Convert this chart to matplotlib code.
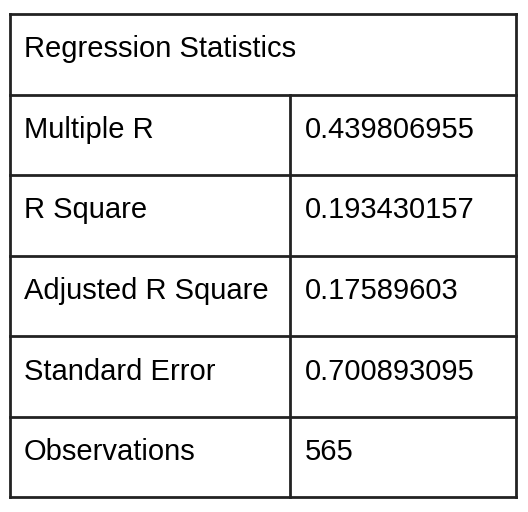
import matplotlib
matplotlib.use('Agg')
import matplotlib.pyplot as plt

title = 'Regression Statistics'
labels = ['Multiple R', 'R Square', 'Adjusted R Square', 'Standard Error', 'Observations']
values = ['0.439806955', '0.193430157', '0.17589603', '0.700893095', '565']

W, H = 528, 512
fig = plt.figure(figsize=(W / 100, H / 100), dpi=100)
ax = fig.add_axes([0, 0, 1, 1])
ax.set_xlim(0, W)
ax.set_ylim(H, 0)
ax.axis('off')

left, right, top, row_h, col_x = 10, 516, 14, 80.5, 290
line_kw = dict(color='#222222', lw=2, solid_capstyle='projecting')
n_rows = len(labels) + 1
bottom = top + row_h * n_rows

# outer border and horizontal rules
for i in range(n_rows + 1):
    y = top + i * row_h
    ax.plot([left, right], [y, y], **line_kw)
ax.plot([left, left], [top, bottom], **line_kw)
ax.plot([right, right], [top, bottom], **line_kw)
ax.plot([col_x, col_x], [top + row_h, bottom], **line_kw)

font = dict(family=['Liberation Sans', 'DejaVu Sans'], fontsize=21, color='black', va='baseline')
ax.text(24, top + 43, title, **font)
for i, (lab, val) in enumerate(zip(labels, values)):
    yb = top + row_h * (i + 1) + 43.5
    ax.text(24, yb, lab, **font)
    ax.text(305, yb, val, **font)

fig.savefig('out.png', dpi=100)
